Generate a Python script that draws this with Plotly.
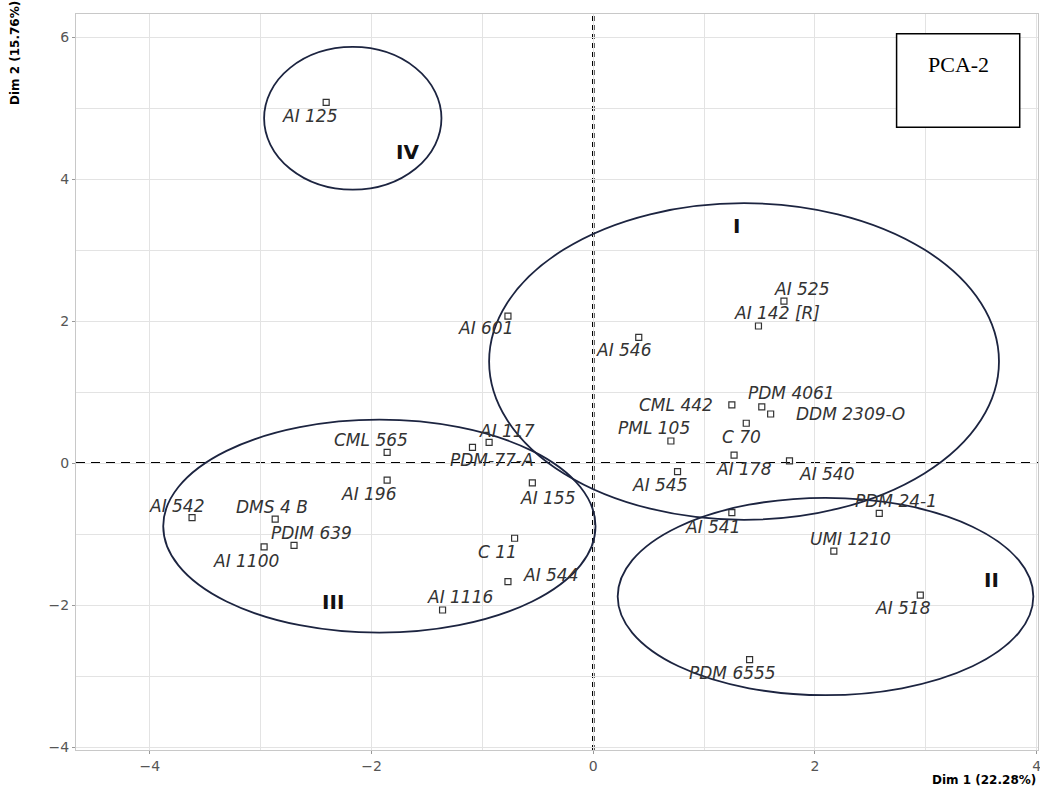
import plotly.graph_objects as go

# ---- data ----
genotypes = ["AI 125", "AI 601", "AI 546", "AI 525", "AI 142 [R]", "PDM 4061",
             "DDM 2309-O", "CML 442", "C 70", "PML 105", "AI 178", "AI 540",
             "AI 545", "CML 565", "AI 117", "PDM-77-A", "AI 196", "AI 155",
             "AI 542", "DMS 4 B", "PDIM 639", "AI 1100", "C 11", "AI 544",
             "AI 1116", "AI 541", "PDM 24-1", "UMI 1210", "AI 518", "PDM 6555"]
dim1 = [-2.41, -0.77, 0.41, 1.72, 1.49, 1.52,
        1.60, 1.25, 1.38, 0.70, 1.27, 1.77,
        0.76, -1.86, -0.94, -1.09, -1.86, -0.55,
        -3.62, -2.87, -2.70, -2.97, -0.71, -0.77,
        -1.36, 1.25, 2.58, 2.17, 2.95, 1.41]
dim2 = [5.08, 2.07, 1.77, 2.28, 1.93, 0.79,
        0.69, 0.82, 0.56, 0.31, 0.11, 0.03,
        -0.12, 0.15, 0.29, 0.22, -0.24, -0.28,
        -0.77, -0.79, -1.16, -1.18, -1.06, -1.67,
        -2.07, -0.70, -0.71, -1.24, -1.86, -2.77]

cluster_names = ["I", "II", "III", "IV"]
cluster_x0 = [-0.94, 0.22, -3.88, -2.97]
cluster_x1 = [3.66, 3.97, 0.02, -1.37]
cluster_y0 = [-0.80, -3.27, -2.39, 3.85]
cluster_y1 = [3.66, -0.49, 0.61, 5.86]
cluster_label_x = [1.29, 3.59, -2.35, -1.68]
cluster_label_y = [3.34, -1.65, -1.96, 4.38]

x_title = "Dim 1 (22.28%)"
y_title = "Dim 2 (15.76%)"
box_text = "PCA-2"

# ---- label placement (pixel offsets from point: dx right, dy down) ----
label_offsets = {
    "AI 125": (-16, 14), "AI 601": (-22, 12), "AI 546": (-15, 13),
    "AI 525": (18, -12), "AI 142 [R]": (19, -13), "PDM 4061": (30, -14),
    "DDM 2309-O": (80, 0), "CML 442": (-56, 0), "C 70": (-5, 14),
    "PML 105": (-17, -13), "AI 178": (10, 14), "AI 540": (38, 13),
    "AI 545": (-18, 13), "CML 565": (-16, -12), "AI 117": (18, -11),
    "PDM-77-A": (20, 13), "AI 196": (-18, 14), "AI 155": (16, 15),
    "AI 542": (-15, -12), "DMS 4 B": (-3, -12), "PDIM 639": (17, -12),
    "AI 1100": (-18, 14), "C 11": (-17, 14), "AI 544": (43, -7),
    "AI 1116": (17, -13), "AI 541": (-19, 14), "PDM 24-1": (17, -12),
    "UMI 1210": (17, -12), "AI 518": (-17, 13), "PDM 6555": (-17, 13),
}

label_font = dict(family="DejaVu Sans", size=17, color="#333333", style="italic")
grid_color = "#e3e3e3"
ellipse_color = "#1c2440"

fig = go.Figure()

# cluster ellipses
for i, name in enumerate(cluster_names):
    fig.add_shape(type="circle", xref="x", yref="y",
                  x0=cluster_x0[i], x1=cluster_x1[i],
                  y0=cluster_y0[i], y1=cluster_y1[i],
                  line=dict(color=ellipse_color, width=1.8), layer="above")
    fig.add_annotation(x=cluster_label_x[i], y=cluster_label_y[i], text=name,
                       showarrow=False, xanchor="center", yanchor="middle",
                       font=dict(family="DejaVu Sans", size=20, color="#111111",
                                 weight="bold"))

# zero reference lines
fig.add_shape(type="line", xref="x", yref="paper", x0=0, x1=0, y0=0, y1=1,
              line=dict(color="black", width=2.6, dash="5px,4px"), layer="below")
fig.add_shape(type="line", xref="paper", yref="y", x0=0, x1=1, y0=0, y1=0,
              line=dict(color="black", width=1.8, dash="9px,6px"), layer="below")

fig.add_trace(go.Scatter(
    x=dim1, y=dim2, mode="markers", text=genotypes, hoverinfo="text",
    marker=dict(symbol="square-open", size=6, color="#333333",
                line=dict(width=1.2, color="#333333")),
    showlegend=False))

for name, xv, yv in zip(genotypes, dim1, dim2):
    dx, dy = label_offsets[name]
    fig.add_annotation(x=xv, y=yv, text=name, showarrow=False,
                       xanchor="center", yanchor="middle",
                       xshift=dx, yshift=-dy, font=label_font)

# axis titles
fig.add_annotation(xref="paper", yref="paper", x=1.0, y=-0.0405,
                   xanchor="right", yanchor="middle", text=x_title,
                   showarrow=False,
                   font=dict(family="DejaVu Sans", size=12, color="black",
                             weight="bold"))
fig.add_annotation(xref="paper", yref="paper", x=-0.0634, y=0.947,
                   xanchor="center", yanchor="middle", text=y_title,
                   textangle=-90, showarrow=False,
                   font=dict(family="DejaVu Sans", size=12, color="black",
                             weight="bold"))

# PCA-2 box
fig.add_shape(type="rect", xref="paper", yref="paper",
              x0=0.853, x1=0.981, y0=0.846, y1=0.973,
              line=dict(color="black", width=1.5), fillcolor="white",
              layer="above")
fig.add_annotation(xref="paper", yref="paper", x=0.917, y=0.932,
                   xanchor="center", yanchor="middle",
                   text=box_text, showarrow=False,
                   font=dict(family="Liberation Serif", size=22, color="black"))

axis_common = dict(
    showgrid=True, gridcolor=grid_color, gridwidth=1,
    zeroline=False, showline=True, mirror=True, linecolor="#c8c8c8",
    linewidth=1, ticks="outside", ticklen=3, tickcolor="#999999",
    tickfont=dict(family="DejaVu Sans", size=14, color="#555555"),
    ticklabeloverflow="allow",
    automargin=False,
)

fig.update_layout(
    width=1040, height=787,
    margin=dict(l=76, r=2, t=14, b=37),
    paper_bgcolor="white", plot_bgcolor="white",
    xaxis=dict(range=[-4.667, 4.012], tick0=0, dtick=2,
               minor=dict(dtick=1, showgrid=True, gridcolor=grid_color),
               **axis_common),
    yaxis=dict(range=[-4.042, 6.324], tick0=0, dtick=2,
               minor=dict(dtick=1, showgrid=True, gridcolor=grid_color),
               **axis_common),
)

fig.write_html("out.html",
               config={"displayModeBar": False},
               post_script="document.body.style.margin='0px';"
                           "document.body.style.overflow='hidden';")
